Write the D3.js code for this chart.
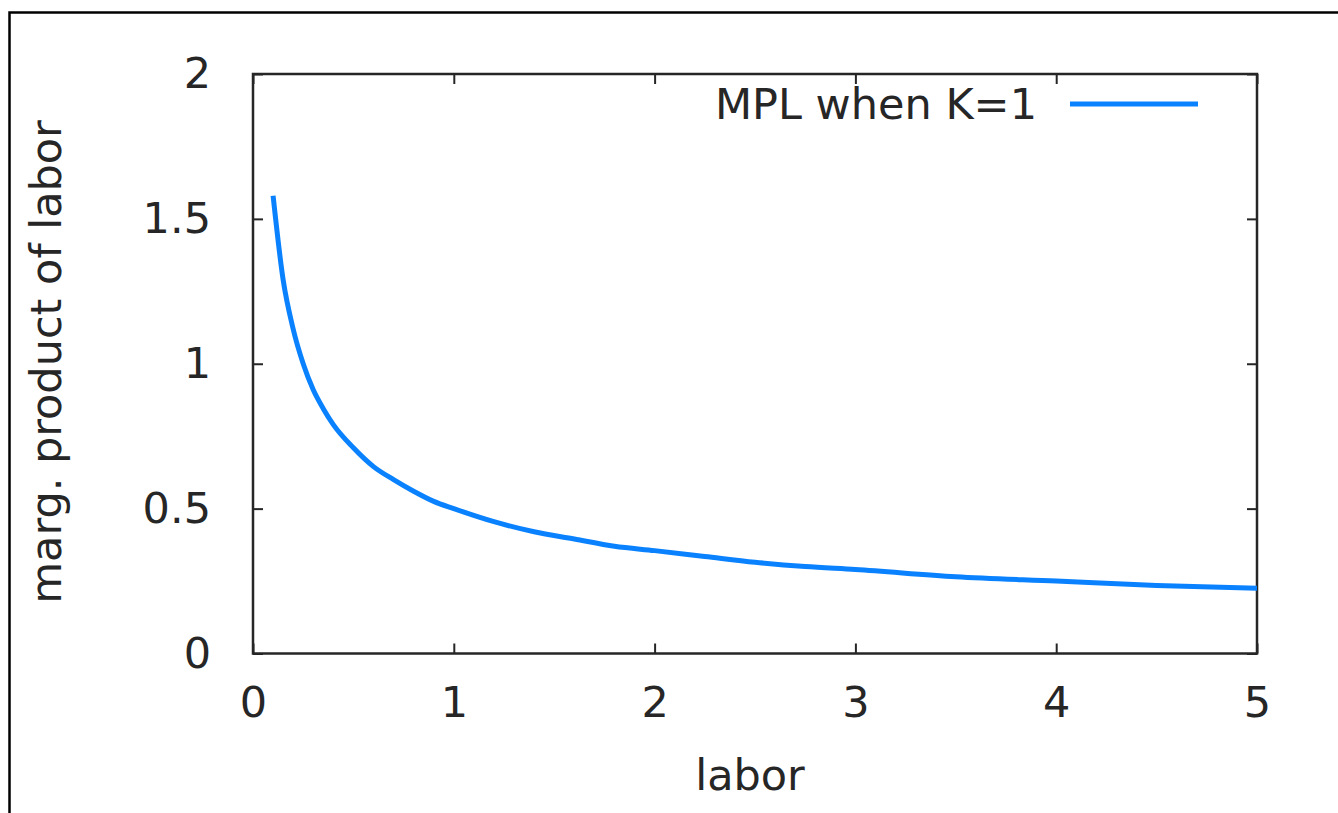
<!DOCTYPE html>
<html>
<head>
<meta charset="utf-8">
<script src="https://cdn.jsdelivr.net/npm/d3@7"></script>
<style>
  body { margin: 0; background: #fff; }
  svg { display: block; }
</style>
</head>
<body>
<svg id="chart" width="1338" height="813"></svg>
<script>
// values
const labor = [0.1, 0.15, 0.2, 0.25, 0.3, 0.35, 0.4, 0.5, 0.6, 0.7, 0.8, 0.9, 1.0, 1.2, 1.4, 1.6, 1.8, 2.0, 2.25, 2.5, 2.75, 3.0, 3.5, 4.0, 4.5, 5.0];
const mpl = [1.58, 1.29, 1.12, 1.0, 0.91, 0.845, 0.79, 0.71, 0.645, 0.6, 0.56, 0.525, 0.5, 0.455, 0.42, 0.395, 0.37, 0.355, 0.335, 0.315, 0.3, 0.29, 0.265, 0.25, 0.235, 0.225];
const xTicks = [0, 1, 2, 3, 4, 5];
const yTicks = [0, 0.5, 1, 1.5, 2];
const seriesName = "MPL when K=1";

const svg = d3.select("#chart");
const font = "'DejaVu Sans', sans-serif";
const fontSize = "43px";
const ink = "#262626";
const margin = {top: 74, right: 81, bottom: 159.5, left: 253};
const w = 1338 - margin.left - margin.right, h = 813 - margin.top - margin.bottom;

// outer frame (cropped: only top and left edges show)
svg.append("path")
    .attr("d", "M9.5,813V12.5H1338")
    .attr("fill", "none")
    .attr("stroke", "#000")
    .attr("stroke-width", 2.5);

const g = svg.append("g")
    .attr("transform", `translate(${margin.left}, ${margin.top})`);

const x = d3.scaleLinear().domain([0, 5]).range([0, w]);
const y = d3.scaleLinear().domain([0, 2]).range([h, 0]);

function styleAxis(sel) {
    sel.select(".domain").remove();
    sel.selectAll("line").attr("stroke", ink).attr("stroke-width", 2);
    sel.selectAll("text")
        .attr("fill", ink)
        .style("font-size", fontSize)
        .style("font-family", font);
}

g.append("g")
    .attr("transform", `translate(0, ${h})`)
    .call(d3.axisBottom(x).tickValues(xTicks).tickSize(-10).tickPadding(33).tickFormat(d3.format("d")))
    .call(styleAxis);

g.append("g")
    .call(d3.axisTop(x).tickValues(xTicks).tickSize(-10).tickFormat(""))
    .call(styleAxis);

g.append("g")
    .call(d3.axisLeft(y).tickValues(yTicks).tickSize(-10).tickPadding(42).tickFormat(d => d))
    .call(styleAxis);

g.append("g")
    .attr("transform", `translate(${w}, 0)`)
    .call(d3.axisRight(y).tickValues(yTicks).tickSize(-10).tickFormat(""))
    .call(styleAxis);

g.append("rect")
    .attr("width", w)
    .attr("height", h)
    .attr("fill", "none")
    .attr("stroke", ink)
    .attr("stroke-width", 2.5);

const points = labor.map((d, i) => ({l: d, v: mpl[i]}));

g.append("path")
    .datum(points)
    .attr("fill", "none")
    .attr("stroke", "#0a82ff")
    .attr("stroke-width", 5)
    .attr("d", d3.line()
        .x(d => x(d.l))
        .y(d => y(d.v))
        .curve(d3.curveMonotoneX));

// legend
g.append("text")
    .attr("x", 1037 - margin.left)
    .attr("y", 119 - margin.top)
    .attr("text-anchor", "end")
    .attr("fill", ink)
    .style("font-size", fontSize)
    .style("font-family", font)
    .text(seriesName);

g.append("line")
    .attr("x1", 1070 - margin.left)
    .attr("x2", 1198 - margin.left)
    .attr("y1", 104 - margin.top)
    .attr("y2", 104 - margin.top)
    .attr("stroke", "#0a82ff")
    .attr("stroke-width", 5);

// axis titles
svg.append("text")
    .attr("x", 750)
    .attr("y", 790)
    .attr("text-anchor", "middle")
    .attr("fill", ink)
    .style("font-size", fontSize)
    .style("font-family", font)
    .text("labor");

svg.append("text")
    .attr("transform", "translate(61, 362) rotate(-90)")
    .attr("text-anchor", "middle")
    .attr("fill", ink)
    .style("font-size", fontSize)
    .style("font-family", font)
    .text("marg. product of labor");
</script>
</body>
</html>
